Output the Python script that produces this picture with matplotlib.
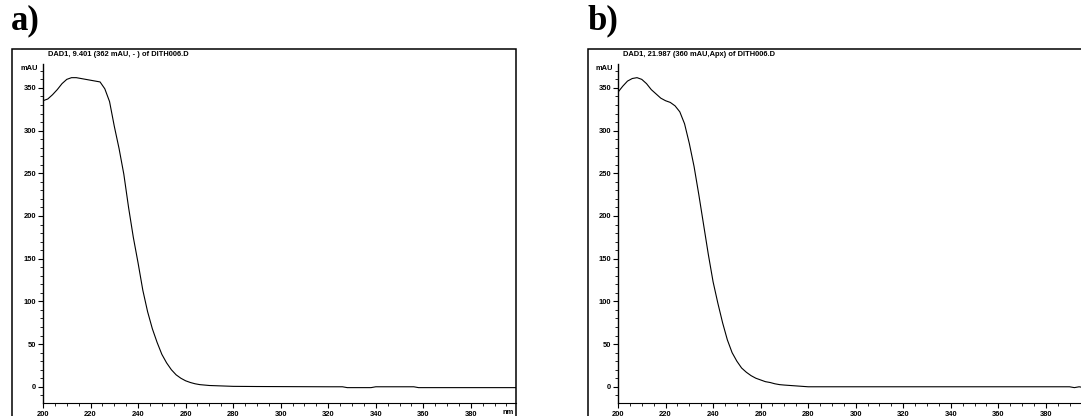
import matplotlib
matplotlib.use('Agg')
from matplotlib import pyplot as plt
from matplotlib.patches import Rectangle
from matplotlib.ticker import MultipleLocator
import numpy as np

# wavelength (nm) and absorbance (mAU)
wl_a = [200, 202, 204, 206, 208, 210, 212, 214, 216, 218, 220, 222, 224, 226, 228,
        230, 232, 234, 236, 238, 240, 242, 244, 246, 248, 250, 252, 254, 256, 258,
        260, 262, 264, 266, 268, 270, 275, 280, 290, 300, 310, 320, 326, 328, 338,
        340, 356, 358, 399]
mau_a = [335, 337, 342, 348, 355, 360, 362, 362, 361, 360, 359, 358, 357, 349, 334,
         305, 279, 249, 210, 175, 145, 113, 88, 68, 52, 38, 28, 20, 14, 10,
         7, 5, 3.5, 2.5, 2, 1.5, 1, 0.5, 0.3, 0.2, 0.1, 0, 0, -1, -1,
         0, 0, -1, -1]

wl_b = [200, 202, 204, 206, 208, 210, 212, 214, 216, 218, 220, 222, 224, 226, 228,
        230, 232, 234, 236, 238, 240, 242, 244, 246, 248, 250, 252, 254, 256, 258,
        260, 262, 264, 266, 268, 270, 275, 280, 390, 392, 394, 396, 399]
mau_b = [345, 352, 358, 361, 362, 360, 355, 348, 343, 338, 335, 333, 329, 322, 308,
         285, 258, 225, 190, 155, 123, 98, 75, 55, 40, 30, 22, 17, 13, 10,
         8, 6, 5, 3.5, 2.5, 2, 1, 0, 0, -1, 0, -1, -1]

titles = ['DAD1, 9.401 (362 mAU, - ) of DITH006.D',
          'DAD1, 21.987 (360 mAU,Apx) of DITH006.D']
panel_labels = ['a)', 'b)']

W, H = 1081, 416
fig = plt.figure(figsize=(W / 100, H / 100), dpi=100)

def fx(px):
    return px / W

def fy(py):
    return 1 - py / H

small = dict(family='Liberation Sans', fontsize=5.4, fontweight='bold')

panels = [
    # box left, axes left, x data, y data
    (12, 43, wl_a, mau_a),
    (588, 618, wl_b, mau_b),
]
ax_w = 516 - 43
ax_top, ax_bot = 64, 403

for i, (box_l, ax_l, x, y) in enumerate(panels):
    # outer frame of the chromatogram export
    fig.patches.append(Rectangle((fx(box_l), fy(430)), fx(504), fy(49) - fy(430),
                                 transform=fig.transFigure, fill=False,
                                 lw=1.1, ec='black'))
    fig.text(fx(box_l - 1), fy(21), panel_labels[i], family='Liberation Serif',
             fontweight='bold', fontsize=25, va='center', ha='left')

    ax = fig.add_axes([fx(ax_l), fy(ax_bot), fx(ax_w), fy(ax_top) - fy(ax_bot)])
    ax.plot(x, y, color='black', lw=0.8)
    ax.set_xlim(200, 399)
    ax.set_ylim(-19, 378)
    ax.patch.set_alpha(0)
    for s in ['top', 'right']:
        ax.spines[s].set_visible(False)
    ax.spines['left'].set_linewidth(1.0)
    ax.spines['bottom'].set_linewidth(0.8)
    ax.yaxis.set_major_locator(MultipleLocator(50))
    ax.yaxis.set_minor_locator(MultipleLocator(10))
    ax.xaxis.set_major_locator(MultipleLocator(20))
    ax.xaxis.set_minor_locator(MultipleLocator(5))
    ax.tick_params(which='major', length=3.5, width=0.8, pad=1.5)
    ax.tick_params(which='minor', length=2, width=0.6)
    ax.tick_params(axis='x', which='both', pad=2)
    for lab in ax.get_xticklabels() + ax.get_yticklabels():
        lab.set_fontfamily('Liberation Sans')
        lab.set_fontsize(5.4)
        lab.set_fontweight('bold')

    fig.text(fx(ax_l + 5), fy(55), titles[i], va='center', ha='left', **small)
    fig.text(fx(ax_l - 14), fy(68), 'mAU', va='center', ha='center', **small)

fig.text(fx(508), fy(413), 'nm', va='center', ha='center', **small)

fig.savefig('out.png', dpi=100)
